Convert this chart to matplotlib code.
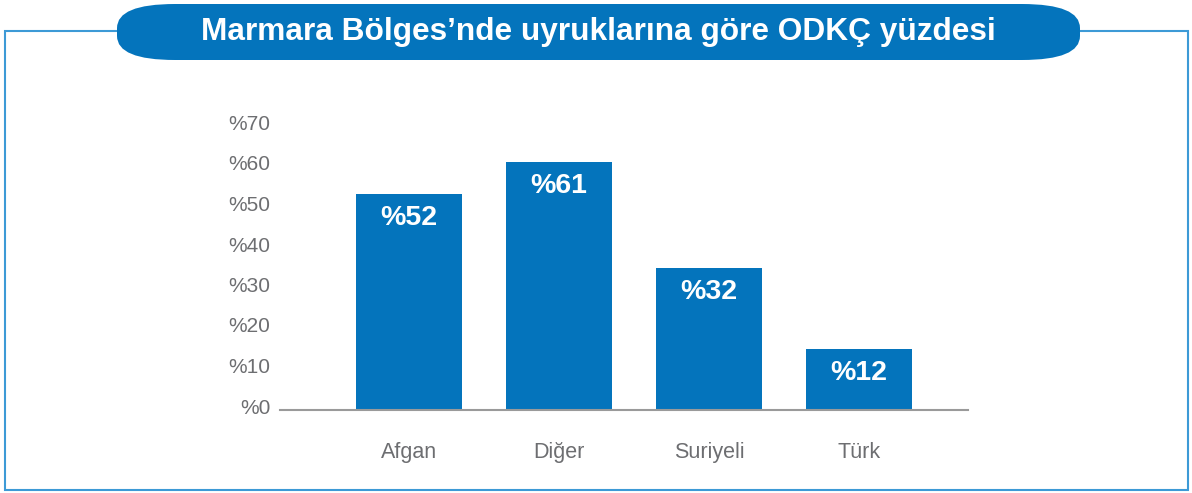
import matplotlib
matplotlib.use("Agg")
import matplotlib.pyplot as plt
from matplotlib.patches import FancyBboxPatch, Rectangle
import matplotlib.transforms as mtransforms

categories = ["Afgan", "Diğer", "Suriyeli", "Türk"]
bar_heights = [53.3, 61.2, 35.0, 15.0]
bar_labels = ["%52", "%61", "%32", "%12"]
yticks = [0, 10, 20, 30, 40, 50, 60, 70]
ytick_labels = ["%0", "%10", "%20", "%30", "%40", "%50", "%60", "%70"]
title = "Marmara Bölges’nde uyruklarına göre ODKÇ yüzdesi"

BLUE = "#0474BC"
GRAY = "#6d6e71"
W, H = 1192, 493
fig = plt.figure(figsize=(W / 100, H / 100), dpi=100)
plt.rcParams['font.family'] = ['Liberation Sans', 'DejaVu Sans']

# outer frame
fig.patches.append(Rectangle((5 / W, 3 / H), 1183 / W, 459 / H, transform=fig.transFigure,
                             fill=False, edgecolor="#3d9ad6", linewidth=1.5))
# title pill
ph = 56
fig.patches.append(FancyBboxPatch((117 / W, (H - 60) / H), 963 / W, ph / H,
                                  boxstyle="round,pad=0,rounding_size=%f" % (24 / H),
                                  mutation_aspect=1,
                                  transform=fig.transFigure, facecolor=BLUE, edgecolor="none"))
fig.text(598 / W, (H - 32) / H, title, color="white", fontsize=22.8, fontweight="bold",
         ha="center", va="center")

# axes: x 280..968, y 126..410 (pixels from top)
left, right = 280, 968
top, bottom = 126.5, 410
ax = fig.add_axes([left / W, (H - bottom) / H, (right - left) / W, (bottom - top) / H])
x = list(range(len(categories)))
bars = ax.bar(x, bar_heights, width=0.707, color=BLUE, zorder=2)
ax.set_xlim(-0.86, 3.727)
ax.set_ylim(0, 70)
for sp in ["top", "right", "left"]:
    ax.spines[sp].set_visible(False)
ax.spines["bottom"].set_color("#9a9a9a")
ax.spines["bottom"].set_linewidth(1.5)
ax.set_yticks(yticks)
ax.set_yticklabels(ytick_labels, color=GRAY, fontsize=15)
ax.set_xticks(x)
ax.set_xticklabels(categories, color=GRAY, fontsize=15.5)
ax.tick_params(axis="y", length=0, pad=7)
ax.tick_params(axis="x", length=0, pad=23)
off = mtransforms.ScaledTranslation(0, 4 / 100, fig.dpi_scale_trans)
for lab in ax.get_yticklabels():
    lab.set_transform(lab.get_transform() + off)

for b, lab in zip(bars, bar_labels):
    ax.annotate(lab, (b.get_x() + b.get_width() / 2, b.get_height()),
                xytext=(0, -24), textcoords="offset pixels",
                ha="center", va="center", color="white", fontsize=20.5, fontweight="bold")

fig.savefig("out.png", dpi=100)
